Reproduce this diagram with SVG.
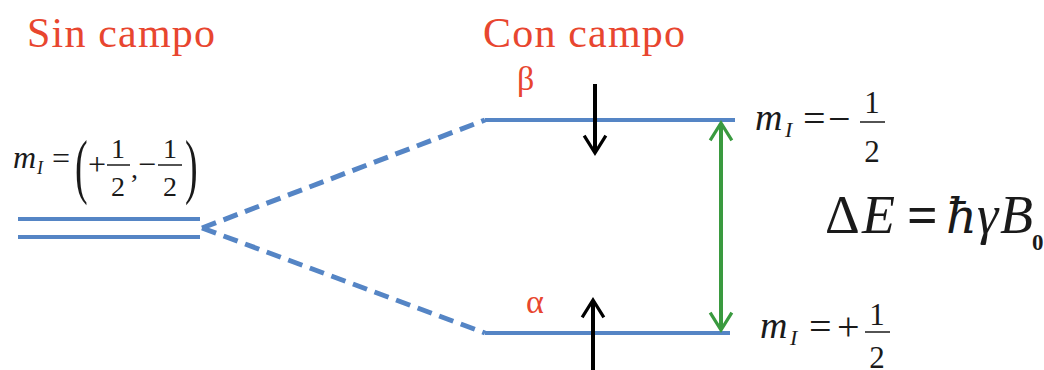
<svg xmlns="http://www.w3.org/2000/svg" width="1044" height="370" viewBox="0 0 1044 370">
<style>
.title{font-family:"Liberation Serif",serif;font-size:42px;fill:#e8462f}
.greek{font-family:"Liberation Serif",serif;font-size:34px;fill:#e8462f}
.m{font-family:"Liberation Serif","DejaVu Serif",serif;fill:#1a1a1a}
.it{font-style:italic}
.lvl{stroke:#5585c5;stroke-width:4;fill:none}
.dash{stroke:#5585c5;stroke-width:5;fill:none;stroke-dasharray:15 8}
.blk{stroke:#000;stroke-width:4;fill:none}
.grn{stroke:#3a9a3f;stroke-width:4;fill:none}
</style>
<defs>
<marker id="chevK" viewBox="0 0 12 12" refX="10" refY="6" markerWidth="6.5" markerHeight="6.5" orient="auto" markerUnits="strokeWidth">
<path d="M2,1 L10,6 L2,11" fill="none" stroke="#000" stroke-width="1.5"/>
</marker>
<marker id="chevG" viewBox="0 0 12 12" refX="10" refY="6" markerWidth="6.5" markerHeight="6.5" orient="auto-start-reverse" markerUnits="strokeWidth">
<path d="M2,1 L10,6 L2,11" fill="none" stroke="#3a9a3f" stroke-width="1.5"/>
</marker>
</defs>

<g id="title-sin"><text class="title" x="27" y="47" textLength="188">Sin campo</text></g>
<g id="title-con"><text class="title" x="483" y="47" textLength="202">Con campo</text></g>

<g id="level-degenerate">
<line class="lvl" x1="18" y1="219" x2="200" y2="219"/>
<line class="lvl" x1="18" y1="237" x2="200" y2="237"/>
<g class="m" font-size="28">
<text class="it" x="13" y="168" font-size="32">m</text>
<text class="it" x="37" y="174" font-size="18">I</text>
<text x="52" y="169" font-size="32">=</text>
<text transform="translate(75,190) scale(1,1.9)" font-size="38">(</text>
<text x="88" y="175" font-size="32">+</text>
<text x="118" y="158" text-anchor="middle">1</text>
<line x1="107" y1="165" x2="130" y2="165" stroke="#1a1a1a" stroke-width="1.5"/>
<text x="118" y="196" text-anchor="middle">2</text>
<text x="131" y="178">,</text>
<text x="138" y="175" font-size="32">−</text>
<text x="170" y="158" text-anchor="middle">1</text>
<line x1="158" y1="165" x2="182" y2="165" stroke="#1a1a1a" stroke-width="1.5"/>
<text x="170" y="196" text-anchor="middle">2</text>
<text transform="translate(185,190) scale(1,1.9)" font-size="38">)</text>
</g>
</g>

<g id="level-beta">
<line class="lvl" x1="485" y1="120" x2="735" y2="120"/>
<text class="greek" x="517" y="90">β</text>
<g class="m" font-size="40">
<text class="it" x="755" y="130" font-size="38">m</text>
<text class="it" x="785" y="137" font-size="22">I</text>
<text x="803" y="132">=</text>
<text x="828" y="132">−</text>
<text x="872" y="113" text-anchor="middle" font-size="31">1</text>
<line x1="860" y1="122" x2="885" y2="122" stroke="#1a1a1a" stroke-width="1.5"/>
<text x="872" y="162" text-anchor="middle" font-size="31">2</text>
</g>
</g>

<g id="level-alpha">
<line class="lvl" x1="485" y1="333" x2="730" y2="333"/>
<text class="greek" x="526" y="313">α</text>
<g class="m" font-size="40">
<text class="it" x="760" y="338" font-size="38">m</text>
<text class="it" x="790" y="345" font-size="22">I</text>
<text x="809" y="340">=</text>
<text x="837" y="340">+</text>
<text x="877" y="325" text-anchor="middle" font-size="31">1</text>
<line x1="865" y1="332" x2="890" y2="332" stroke="#1a1a1a" stroke-width="1.5"/>
<text x="877" y="368" text-anchor="middle" font-size="31">2</text>
</g>
</g>

<g id="energy-label" font-size="54" fill="#1a1a1a">
<text x="825" y="233" style="font-family:'Liberation Serif',serif">Δ</text>
<text x="862" y="233" style="font-family:'Liberation Serif',serif;font-style:italic">E</text>
<text x="907" y="233" style="font-family:'Liberation Serif',serif;font-weight:bold">=</text>
<text x="946" y="233" style="font-family:'DejaVu Serif',serif;font-style:italic" font-size="48">ħ</text>
<text x="977" y="233" style="font-family:'Liberation Serif',serif;font-style:italic">γ</text>
<text x="1000" y="233" style="font-family:'Liberation Serif',serif;font-style:italic">B</text>
<text x="1032" y="250" font-size="23" style="font-family:'Liberation Serif',serif;font-weight:bold">0</text>
</g>

<g id="connectors">
<path class="dash" d="M202,228 L485,120"/>
<path class="dash" d="M202,228 L485,333"/>
<line class="blk" x1="595" y1="84" x2="595" y2="153" marker-end="url(#chevK)"/>
<line class="blk" x1="593" y1="370" x2="593" y2="300" marker-end="url(#chevK)"/>
<line class="grn" x1="721" y1="123" x2="721" y2="330" marker-start="url(#chevG)" marker-end="url(#chevG)"/>
</g>
</svg>
